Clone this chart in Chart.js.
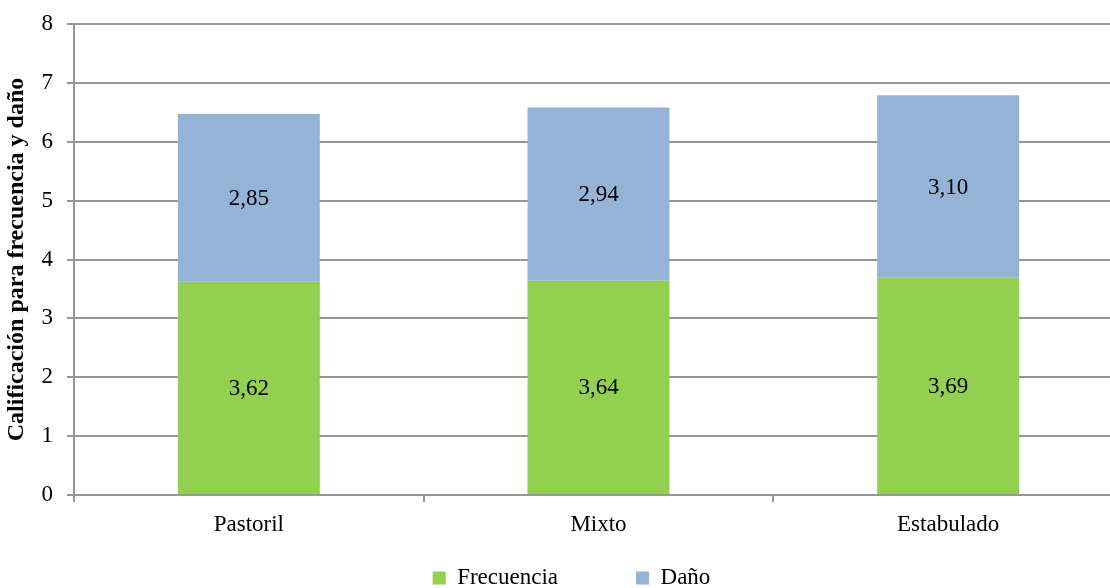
<!DOCTYPE html>
<html>
<head>
<meta charset="utf-8">
<script src="https://cdn.jsdelivr.net/npm/chart.js@4.4.0/dist/chart.umd.min.js"></script>
<style>
  html, body { margin: 0; padding: 0; background: #ffffff; overflow: hidden; width: 1110px; height: 588px; }
  canvas { display: block; }
</style>
</head>
<body>
<canvas id="chart" width="1123" height="588"></canvas>
<script>
// Categories and stacked series
const categories = ['Pastoril', 'Mixto', 'Estabulado'];
const frecuencia = [3.62, 3.64, 3.69];
const dano = [2.85, 2.94, 3.10];
const seriesNames = ['Frecuencia', 'Daño'];
const yAxisTitle = 'Calificación para frecuencia y daño';
const yMin = 0, yMax = 8, yStep = 1;

const FONT = '"Liberation Serif", "Times New Roman", serif';
const GRID = '#979797';

// Writes each segment's value (comma decimal) in the middle of its bar
const segmentLabels = {
  id: 'segmentLabels',
  afterDatasetsDraw(chart) {
    const ctx = chart.ctx;
    ctx.save();
    ctx.font = '23px ' + FONT;
    ctx.fillStyle = '#000000';
    ctx.textAlign = 'center';
    ctx.textBaseline = 'middle';
    chart.data.datasets.forEach((ds, di) => {
      const meta = chart.getDatasetMeta(di);
      meta.data.forEach((bar, i) => {
        const { x, y, base } = bar.getProps(['x', 'y', 'base'], true);
        const txt = ds.data[i].toFixed(2).replace('.', ',');
        ctx.fillText(txt, x, (y + base) / 2 + 1);
      });
    });
    ctx.restore();
  }
};

// Places the legend row under the axis labels with wide spacing between entries
const legendPlacement = {
  id: 'legendPlacement',
  afterLayout(chart) {
    const lg = chart.legend;
    if (!lg) return;
    const p = lg.options.labels.padding;
    const shiftX = 10;
    lg.top = lg.top - p + 11.5;
    lg.bottom = chart.height;
    lg.height = lg.bottom - lg.top;
    lg.left += shiftX;
    lg.right += shiftX;
  }
};

new Chart(document.getElementById('chart'), {
  type: 'bar',
  data: {
    labels: categories,
    datasets: [
      { label: seriesNames[0], data: frecuencia, backgroundColor: '#92D050', borderWidth: 0 },
      { label: seriesNames[1], data: dano, backgroundColor: '#95B3D7', borderWidth: 0 }
    ]
  },
  options: {
    responsive: false,
    animation: false,
    events: [],
    layout: { padding: { left: 0, right: 0, top: 24, bottom: 0 } },
    datasets: { bar: { categoryPercentage: 1, barPercentage: 0.406 } },
    plugins: {
      tooltip: { enabled: false },
      legend: {
        position: 'bottom',
        maxHeight: 33,
        labels: {
          font: { family: FONT, size: 23 },
          color: '#000000',
          boxWidth: 13,
          boxHeight: 13,
          padding: 78
        }
      }
    },
    scales: {
      x: {
        stacked: true,
        offset: true,
        grid: { display: true, drawOnChartArea: false, drawTicks: true, tickLength: 7, color: GRID, lineWidth: 2, offset: true },
        border: { display: true, color: GRID, width: 2 },
        ticks: { font: { family: FONT, size: 23 }, color: '#000000', padding: 9, maxRotation: 0 },
        afterFit(scale) { scale.height = 60; }
      },
      y: {
        stacked: true,
        min: yMin,
        max: yMax,
        grid: { color: GRID, lineWidth: 2, drawTicks: true, tickLength: 7 },
        border: { display: true, color: GRID, width: 2 },
        ticks: { stepSize: yStep, font: { family: FONT, size: 23, lineHeight: 0.8 }, color: '#000000', padding: 14 },
        title: {
          display: true,
          text: yAxisTitle,
          font: { family: FONT, size: 24, weight: 'bold' },
          color: '#000000',
          padding: { top: 2, bottom: 0 }
        },
        afterFit(scale) { scale.width = 74; }
      }
    }
  },
  plugins: [segmentLabels, legendPlacement]
});
</script>
</body>
</html>
